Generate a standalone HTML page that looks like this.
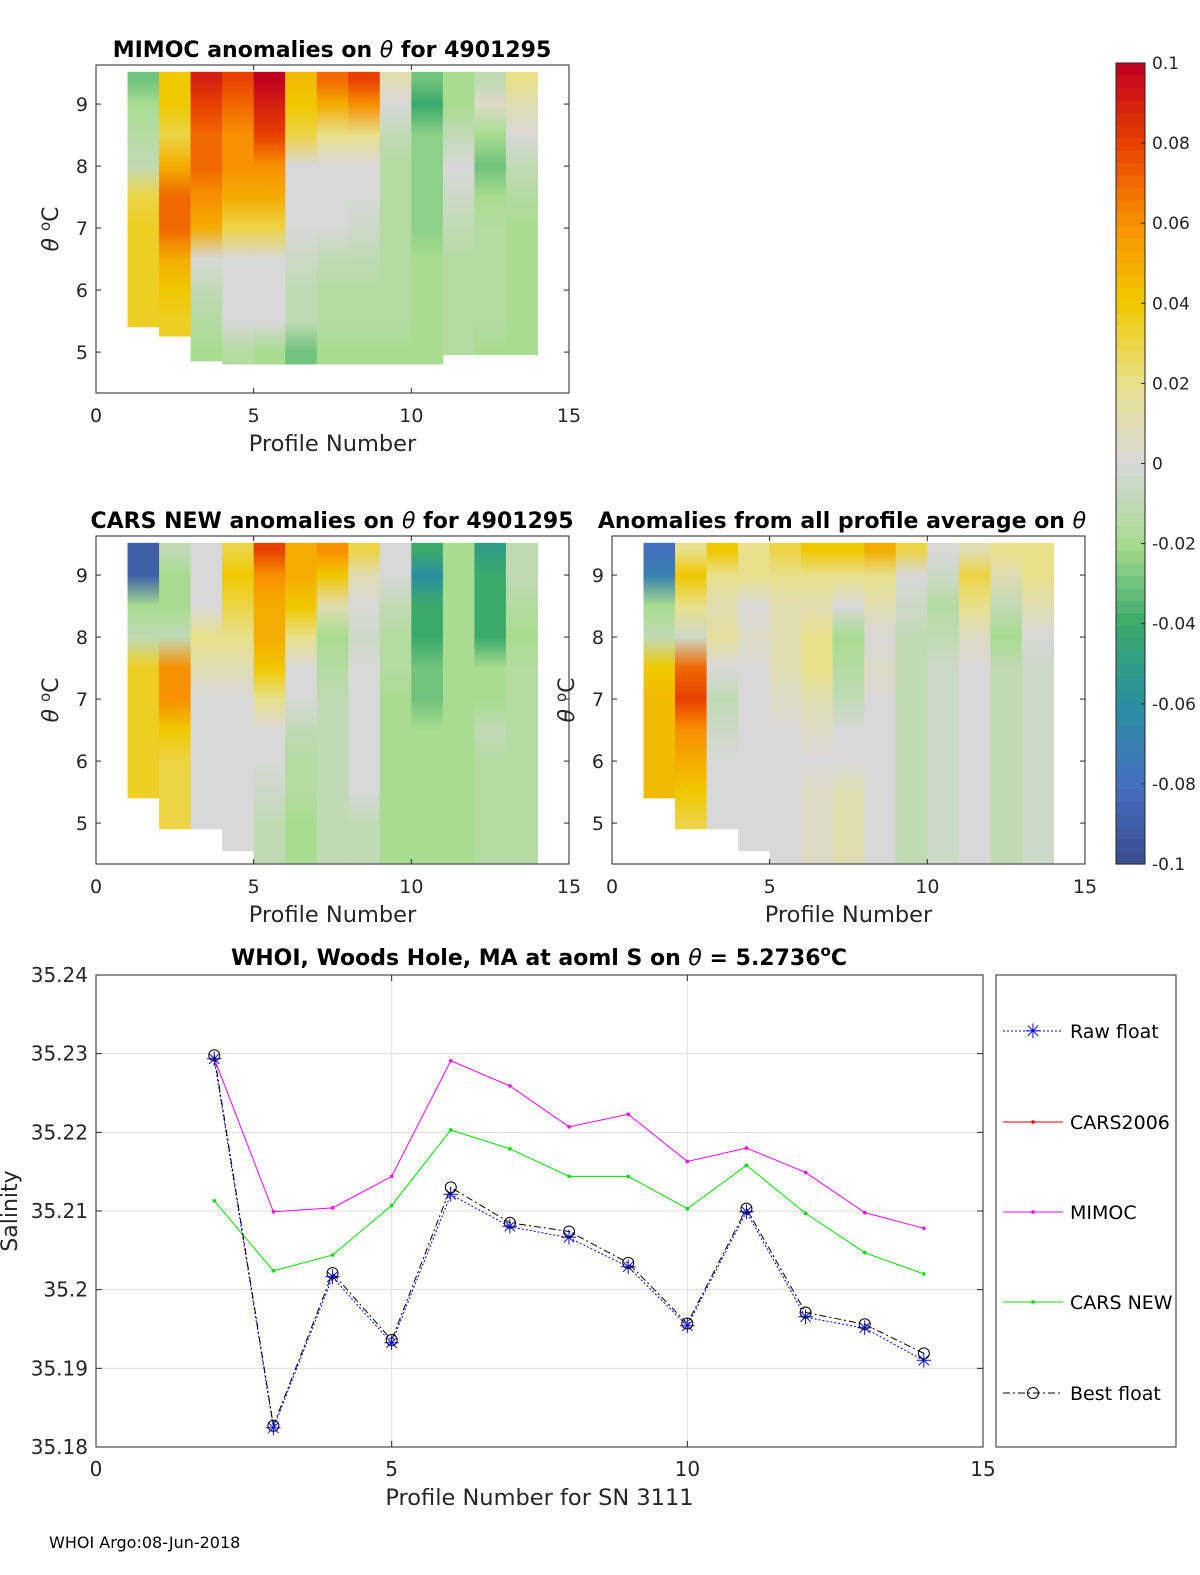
<!DOCTYPE html>
<html><head><meta charset="utf-8"><style>
html,body{margin:0;padding:0;background:#fff;overflow:hidden}
#fig{position:absolute;left:0;top:0;width:1200px;height:1575px;display:block}
svg text{font-family:"DejaVu Sans","Liberation Sans",sans-serif}
</style></head><body>
<svg id="fig" width="1200" height="1575" viewBox="0 0 1200 1575" xmlns="http://www.w3.org/2000/svg">
<defs id="defs"></defs>
<g id="root"></g>
</svg>
<script>
// ---- Heatmap data (anomaly values per profile column at theta levels) ----
const levels = [9.4, 9.0, 8.5, 8.0, 7.5, 7.0, 6.5, 6.0, 5.5, 5.0];
const colStart = [1,2,3,4,5,6,7,8,9,10,11,12,13];
const mimocBottom = [5.4,5.25,4.85,4.8,4.8,4.8,4.8,4.8,4.8,4.8,4.95,4.95,4.95];
const mimocVals = [
 [-0.03,-0.02,-0.015,-0.01,0.03,0.035,0.035,0.035,0.035,null],
 [0.04,0.04,0.03,0.05,0.07,0.07,0.05,0.04,0.035,0.03],
 [0.09,0.08,0.07,0.07,0.06,0.05,0,-0.01,-0.015,-0.02],
 [0.08,0.07,0.06,0.06,0.05,0.03,0,0,0,-0.015],
 [0.1,0.09,0.08,0.06,0.05,0.03,0,0,0,-0.02],
 [0.045,0.04,0.03,0,0,0,-0.005,-0.01,-0.01,-0.03],
 [0.07,0.05,0.02,0,0,0,-0.01,-0.015,-0.015,-0.02],
 [0.08,0.06,0.02,0,0,-0.005,-0.01,-0.015,-0.015,-0.02],
 [0.01,0,-0.01,-0.015,-0.015,-0.015,-0.015,-0.015,-0.015,-0.02],
 [-0.03,-0.04,-0.025,-0.025,-0.025,-0.025,-0.02,-0.02,-0.02,-0.02],
 [-0.02,-0.02,-0.01,0,-0.005,-0.01,-0.015,-0.015,-0.015,-0.015],
 [-0.01,0.005,-0.02,-0.03,-0.02,-0.015,-0.015,-0.015,-0.015,-0.02],
 [0.02,0.01,0,-0.01,-0.015,-0.02,-0.02,-0.02,-0.02,-0.02]
];
const carsBottom = [5.4,4.9,4.9,4.55,4.35,4.35,4.35,4.35,4.35,4.35,4.35,4.35,4.35];
const carsVals = [
 [-0.09,-0.09,-0.02,-0.01,0.035,0.035,0.035,0.035,0.035,null],
 [-0.01,-0.02,-0.02,-0.01,0.06,0.06,0.04,0.03,0.03,0.03],
 [0,0,0,0.02,0.01,0,0,0,0,0],
 [0.03,0.04,0.03,0.02,0.01,0,0,0,0,0],
 [0.08,0.06,0.05,0.05,0.04,0.02,0,0,-0.005,-0.01],
 [0.05,0.05,0.04,0.02,0,0,-0.01,-0.015,-0.015,-0.02],
 [0.06,0.04,0.01,-0.02,-0.015,-0.01,-0.01,-0.01,-0.01,-0.01],
 [0.03,0.01,0,-0.005,0,0,0,0,0,-0.01],
 [0,0,-0.01,-0.015,-0.015,-0.02,-0.02,-0.02,-0.02,-0.02],
 [-0.04,-0.06,-0.04,-0.04,-0.03,-0.03,-0.02,-0.02,-0.02,-0.02],
 [-0.02,-0.02,-0.02,-0.02,-0.02,-0.02,-0.02,-0.02,-0.02,-0.02],
 [-0.05,-0.04,-0.04,-0.04,-0.02,-0.02,-0.01,-0.015,-0.015,-0.015],
 [-0.01,-0.01,-0.015,-0.02,-0.015,-0.015,-0.015,-0.015,-0.015,-0.015]
];
const avgBottom = [5.4,4.9,4.9,4.55,4.35,4.35,4.35,4.35,4.35,4.35,4.35,4.35,4.35];
const avgVals = [
 [-0.08,-0.07,-0.02,-0.01,0.04,0.045,0.045,0.045,0.045,null],
 [0.02,0.04,0.02,-0.005,0.07,0.08,0.06,0.05,0.04,0.03],
 [0.04,0.02,0.01,0.015,0,-0.01,-0.005,0,0,0],
 [0.02,0.02,0,0.005,0,0,0,0,0,0],
 [0.03,0.02,0.01,0.01,0.01,0.005,0,0,0,0],
 [0.04,0.02,0.01,0.02,0.02,0.01,0.005,0,0.005,0.005],
 [0.04,0.02,0,-0.02,-0.015,-0.01,0,0,0.01,0.01],
 [0.05,0.02,0.01,0,0.005,0,0,0,0,0],
 [0.03,0,-0.005,-0.01,-0.01,-0.01,-0.01,-0.01,-0.01,-0.01],
 [0,-0.005,-0.015,-0.01,-0.005,-0.005,-0.005,-0.005,-0.005,-0.005],
 [0.01,0.03,0.02,0.005,0,0,0,0,0,0],
 [0.02,0.01,-0.01,-0.02,-0.01,-0.01,-0.01,-0.01,-0.01,-0.01],
 [0.02,0.02,0.01,0,-0.005,-0.005,-0.005,-0.005,-0.005,-0.005]
];
const profileTicks = [0,5,10,15];
const thetaTicks = [5,6,7,8,9];
const cbarTicks = [0.1,0.08,0.06,0.04,0.02,0,-0.02,-0.04,-0.06,-0.08,-0.1];
const cbarLabels = ["0.1","0.08","0.06","0.04","0.02","0","-0.02","-0.04","-0.06","-0.08","-0.1"];

// ---- Line chart data ----
const profiles = [2,3,4,5,6,7,8,9,10,11,12,13,14];
const rawFloat = [35.2293,35.1824,35.2016,35.1932,35.2121,35.2080,35.2066,35.2029,35.1954,35.2099,35.1965,35.1951,35.1910];
const bestFloat = [35.2298,35.1827,35.2021,35.1936,35.2130,35.2085,35.2074,35.2034,35.1957,35.2103,35.1971,35.1956,35.1919];
const mimocS = [35.2294,35.2099,35.2104,35.2144,35.2291,35.2259,35.2207,35.2223,35.2163,35.2180,35.2149,35.2098,35.2078];
const carsNewS = [35.2113,35.2024,35.2044,35.2107,35.2203,35.2179,35.2144,35.2144,35.2103,35.2158,35.2097,35.2047,35.2020];
const salTicks = [35.18,35.19,35.2,35.21,35.22,35.23,35.24];
const salLabels = ["35.18","35.19","35.2","35.21","35.22","35.23","35.24"];

const NS="http://www.w3.org/2000/svg";
const root=document.getElementById('root');
const defs=document.getElementById('defs');
function mk(tag,attrs,parent){const e=document.createElementNS(NS,tag);for(const k in attrs)e.setAttribute(k,attrs[k]);(parent||root).appendChild(e);return e;}
function txt(s,attrs,parent){const e=mk('text',attrs,parent);e.textContent=s;return e;}

const cmapStops=[[-0.1,[58,77,143]],[-0.08,[68,112,192]],[-0.06,[42,143,160]],[-0.04,[58,170,106]],[-0.02,[168,220,144]],[0,[216,216,216]],[0.02,[232,224,138]],[0.04,[240,200,0]],[0.06,[248,144,0]],[0.08,[232,64,0]],[0.1,[192,0,32]]];
function cmap(v){v=Math.max(-0.1,Math.min(0.1,v));for(let i=0;i<cmapStops.length-1;i++){const a=cmapStops[i],b=cmapStops[i+1];if(v<=b[0]+1e-9){const t=(v-a[0])/(b[0]-a[0]);const c=a[1].map((x,j)=>Math.round(x+(b[1][j]-x)*t));return `rgb(${c[0]},${c[1]},${c[2]})`;}}return 'rgb(192,0,32)';}

let gid=0;
function heatPanel(name,x0,x1,yTop,yBot,tTop,tBot,vals,bottoms,title,titleX){
  const g=mk('g',{});
  
  
  const xs=p=>x0+(p/15)*(x1-x0);
  const ys=t=>yTop+(tTop-t)/(tTop-tBot)*(yBot-yTop);
  mk('rect',{x:x0,y:yTop,width:x1-x0,height:yBot-yTop,fill:'#fff'},g);
  colStart.forEach((c,i)=>{
    const top=9.52,bot=bottoms[i];
    const id='hg'+(gid++);
    const lg=mk('linearGradient',{id:id,x1:0,y1:0,x2:0,y2:1},defs);
    levels.forEach((L,j)=>{const v=vals[i][j];if(v===null||L<bot)return;const off=Math.max(0,Math.min(1,(top-L)/(top-bot)));mk('stop',{offset:off,'stop-color':cmap(v)},lg);});
    const r=mk('rect',{x:xs(c),y:ys(top),width:xs(c+1)-xs(c)+0.5,height:ys(bot)-ys(top),fill:`url(#${id})`},g);
    
    
  });
  mk('rect',{x:x0,y:yTop,width:x1-x0,height:yBot-yTop,fill:'none',stroke:'#262626','stroke-width':1},g);
  profileTicks.forEach(p=>{const X=xs(p);mk('line',{x1:X,x2:X,y1:yBot,y2:yBot-5,stroke:'#262626'},g);mk('line',{x1:X,x2:X,y1:yTop,y2:yTop+5,stroke:'#262626'},g);
    const t=txt(String(p),{x:X,y:yBot+29,'font-size':19,'text-anchor':'middle',fill:'#262626'},g);});
  thetaTicks.forEach(th=>{const Y=ys(th);mk('line',{x1:x0,x2:x0+5,y1:Y,y2:Y,stroke:'#262626'},g);mk('line',{x1:x1,x2:x1-5,y1:Y,y2:Y,stroke:'#262626'},g);
    const t=txt(String(th),{x:x0-8,y:Y+7,'font-size':19,'text-anchor':'end',fill:'#262626'},g);});
  const xl=txt('Profile Number',{x:(x0+x1)/2,y:yBot+58,'font-size':22.5,'text-anchor':'middle',fill:'#262626'},g);
  
  const yl=txt('',{transform:`translate(${x0-38},${(yTop+yBot)/2}) rotate(-90)`,'font-size':22,'text-anchor':'middle',fill:'#262626'},g);
  yl.innerHTML='<tspan font-style="italic">θ</tspan> <tspan font-size="15" dy="-8">o</tspan><tspan dy="8">C</tspan>';
  
  const tt=txt('',{x:titleX,y:yTop-8,'font-size':22,'font-weight':'bold','text-anchor':'middle',fill:'#000'},g);
  tt.innerHTML=title;
  
}
heatPanel('mimoc-anomaly-panel',96,569,65,393,9.63,4.34,mimocVals,mimocBottom,'MIMOC anomalies on <tspan font-style="italic" font-weight="normal">θ</tspan>  for 4901295',332);
heatPanel('cars-anomaly-panel',96,569,536,864,9.63,4.34,carsVals,carsBottom,'CARS NEW anomalies on <tspan font-style="italic" font-weight="normal">θ</tspan> for 4901295',332);
heatPanel('average-anomaly-panel',612,1085,536,864,9.63,4.34,avgVals,avgBottom,'Anomalies from all profile average on <tspan font-style="italic" font-weight="normal">θ</tspan>',842);

// colorbar
(function(){
  const g=mk('g',{});
  
  
  const x=1116,w=29,yT=63,yB=864;
  const cy=v=>yT+(0.1-v)/0.2*(yB-yT);
  const n=64;
  for(let i=0;i<n;i++){const v=0.1-(i+0.5)*0.2/n;mk('rect',{x:x,y:cy(0.1-i*0.2/n),width:w,height:(yB-yT)/n+0.6,fill:cmap(v)},g);}
  mk('rect',{x:x,y:yT,width:w,height:yB-yT,fill:'none',stroke:'#262626'},g);
  cbarTicks.forEach((v,i)=>{const Y=cy(v);mk('line',{x1:x+w-4,x2:x+w,y1:Y,y2:Y,stroke:'#262626'},g);
    const t=txt(cbarLabels[i],{x:1152,y:Y+6,'font-size':17,fill:'#262626'},g);});
})();

// line chart
(function(){
  const g=mk('g',{});
  
  
  const x0=96,x1=983,yT=975,yB=1447;
  const xs=p=>x0+p/15*(x1-x0);
  const ys=s=>yB-(s-35.18)/0.06*(yB-yT);
  mk('rect',{x:x0,y:yT,width:x1-x0,height:yB-yT,fill:'#fff'},g);
  [5,10].forEach(p=>mk('line',{x1:xs(p),x2:xs(p),y1:yT,y2:yB,stroke:'#dedede'},g));
  salTicks.forEach(s=>mk('line',{x1:x0,x2:x1,y1:ys(s),y2:ys(s),stroke:'#dedede'},g));
  mk('rect',{x:x0,y:yT,width:x1-x0,height:yB-yT,fill:'none',stroke:'#262626'},g);
  profileTicks.forEach(p=>{const X=xs(p);mk('line',{x1:X,x2:X,y1:yB,y2:yB-6,stroke:'#262626'},g);mk('line',{x1:X,x2:X,y1:yT,y2:yT+6,stroke:'#262626'},g);
    const t=txt(String(p),{x:X,y:yB+29,'font-size':20,'text-anchor':'middle',fill:'#262626'},g);});
  salTicks.forEach((s,i)=>{const Y=ys(s);mk('line',{x1:x0,x2:x0+6,y1:Y,y2:Y,stroke:'#262626'},g);mk('line',{x1:x1,x2:x1-6,y1:Y,y2:Y,stroke:'#262626'},g);
    const t=txt(salLabels[i],{x:x0-8,y:Y+7,'font-size':20,'text-anchor':'end',fill:'#262626'},g);});
  function series(name,vals,color,dash,marker){
    const pts=profiles.map((p,i)=>xs(p)+','+ys(vals[i])).join(' ');
    const pl=mk('polyline',{points:pts,fill:'none',stroke:color,'stroke-width':1,'stroke-dasharray':dash||'none'},g);
    
    
    profiles.forEach((p,i)=>{const X=xs(p),Y=ys(vals[i]);
      if(marker==='dot'){const c=mk('circle',{cx:X,cy:Y,r:1.8,fill:color},g);}
      else if(marker==='star'){const s=mk('text',{x:X,y:Y+7,'font-size':20,'text-anchor':'middle',fill:color},g);s.textContent='✳';}
      else if(marker==='circle'){const c=mk('circle',{cx:X,cy:Y,r:5.5,fill:'none',stroke:color},g);}
    });
  }
  series('mimoc',mimocS,'#ff00ff','','dot');
  series('cars-new',carsNewS,'#00e000','','dot');
  series('raw-float',rawFloat,'#0000ff','2 2','star');
  series('best-float',bestFloat,'#000','7 3 2 3','circle');
  const xl=txt('Profile Number for SN 3111',{x:(x0+x1)/2,y:yB+58,'font-size':22.5,'text-anchor':'middle',fill:'#262626'},g);
  
  const yl=txt('Salinity',{transform:`translate(17,${(yT+yB)/2}) rotate(-90)`,'font-size':22,'text-anchor':'middle',fill:'#262626'},g);
  
  const tt=txt('',{x:539,y:965,'font-size':22,'font-weight':'bold','text-anchor':'middle',fill:'#000'},g);
  tt.innerHTML='WHOI, Woods Hole, MA at aoml S on <tspan font-style="italic" font-weight="normal">θ</tspan> = 5.2736<tspan font-size="15" dy="-9">o</tspan><tspan dy="9">C</tspan>';
  
  const lg=mk('g',{},g);
  
  
  mk('rect',{x:996,y:975,width:180,height:472,fill:'#fff',stroke:'#262626'},lg);
  const entries=[['Raw float','#0000ff','2 2','star',1031],['CARS2006','#e00000','','dot',1122],['MIMOC','#ff00ff','','dot',1212],['CARS NEW','#00e000','','dot',1302],['Best float','#000','7 3 2 3','circle',1393]];
  entries.forEach(e=>{
    const eg=mk('g',{},lg);
    
    
    mk('line',{x1:1003,x2:1063,y1:e[4],y2:e[4],stroke:e[1],'stroke-dasharray':e[2]||'none'},eg);
    if(e[3]==='dot')mk('circle',{cx:1033,cy:e[4],r:1.8,fill:e[1]},eg);
    else if(e[3]==='circle')mk('circle',{cx:1033,cy:e[4],r:5.5,fill:'none',stroke:e[1]},eg);
    else {const s=mk('text',{x:1033,y:e[4]+7,'font-size':20,'text-anchor':'middle',fill:e[1]},eg);s.textContent='✳';}
    txt(e[0],{x:1070,y:e[4]+7,'font-size':19,fill:'#000'},eg);
  });
})();
const ft=txt('WHOI Argo:08-Jun-2018',{x:49,y:1548,'font-size':16,fill:'#000'});


</script>
</body></html>
